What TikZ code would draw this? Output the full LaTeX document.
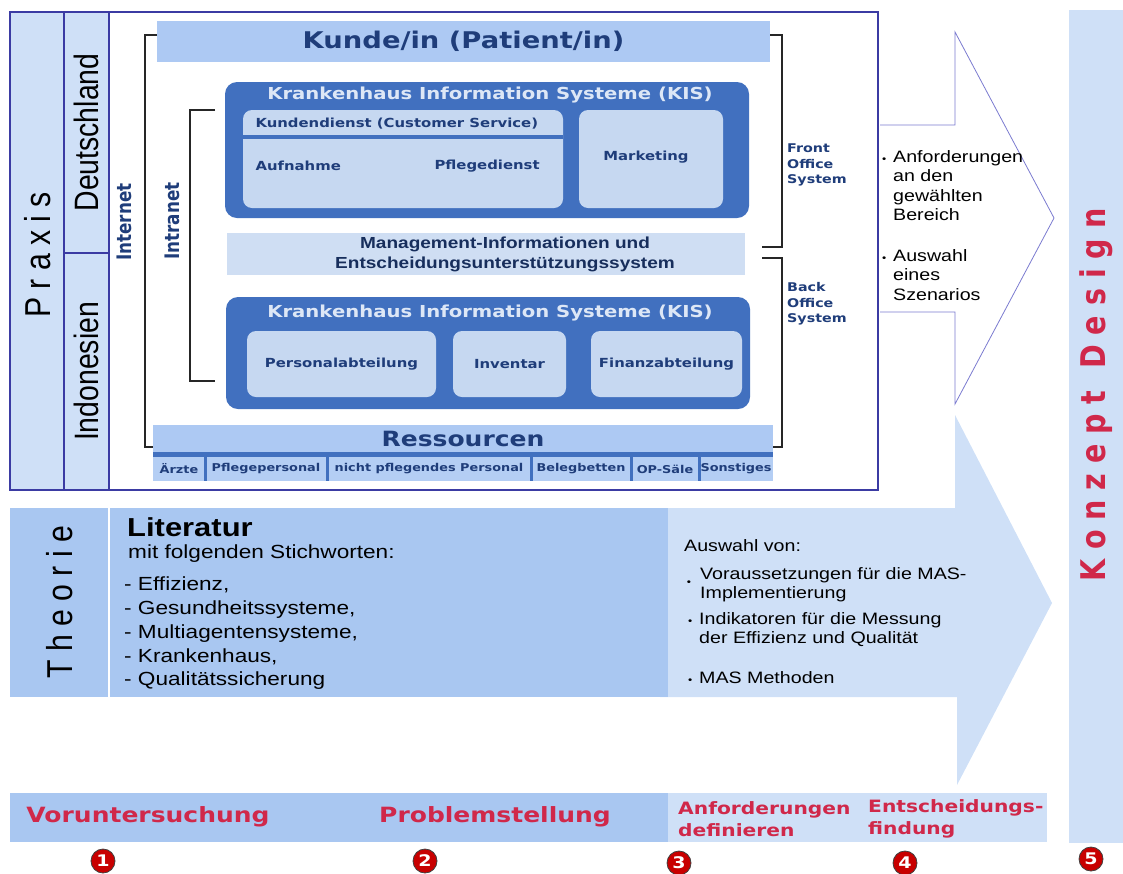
\documentclass[tikz,border=0pt]{standalone}
\usepackage{fontspec}
\setmainfont{Liberation Sans}[FakeStretch=1.19]
\newfontfamily\vfont{DejaVu Sans}[FakeStretch=1.19]
\newfontfamily\rotfont{Liberation Sans}[FakeStretch=0.84]
\newfontfamily\rotspaced{Liberation Sans}[FakeStretch=0.84, LetterSpace=23]
\newfontfamily\vrotfont{DejaVu Sans}[FakeStretch=0.84]
\newfontfamily\konfont{DejaVu Sans}[FakeStretch=0.84, LetterSpace=29]
\usepackage{tikz}
\usetikzlibrary{positioning}
\definecolor{pxIndigo}{HTML}{3B3BA3}
\definecolor{pxPale}{HTML}{CFE0F7}
\definecolor{pxSky}{HTML}{ADC9F3}
\definecolor{pxKis}{HTML}{4170BF}
\definecolor{pxUnit}{HTML}{C6D8F1}
\definecolor{pxNavy}{HTML}{1F3D7A}
\definecolor{pxTitle}{HTML}{DDE7F6}
\definecolor{pxTheo}{HTML}{A9C7F1}
\definecolor{pxRed}{HTML}{D0284A}
\definecolor{pxArrow}{HTML}{7B7BD0}
\definecolor{pxDot}{HTML}{C80000}
\newcommand{\dotb}{\makebox[11pt][l]{\fontsize{10}{10}\selectfont\textbullet}}

\begin{document}
\begin{tikzpicture}[x=1pt, y=-1pt,
      area/.style={inner sep=0pt, outer sep=0pt, anchor=north west},
      lane/.style={area, draw=pxIndigo, line width=2pt, fill=pxPale},
      bar/.style={area, fill=pxSky},
      kisbox/.style={area, fill=pxKis, rounded corners=12pt},
      unitbox/.style={area, fill=pxUnit, rounded corners=9pt},
      kistitle/.style={text=pxTitle, font=\vfont\bfseries\fontsize{16.5}{18}\selectfont},
      unit/.style={text=pxNavy, font=\vfont\bfseries\fontsize{12.5}{14}\selectfont},
      cell/.style={text=pxNavy, font=\vfont\bfseries\fontsize{10.8}{12}\selectfont},
      office/.style={text=pxNavy, align=left, anchor=west, inner sep=0pt,
                     font=\vfont\bfseries\fontsize{12}{15.5}\selectfont},
      net/.style={rotate=90, text=pxNavy, font=\vrotfont\bfseries\fontsize{20}{22}\selectfont},
      land/.style={rotate=90, font=\rotfont\fontsize{33.8}{36}\selectfont},
      side/.style={rotate=90, font=\rotspaced\fontsize{36}{38}\selectfont},
      brk/.style={line width=2pt, black!85},
      body/.style={align=left, anchor=north west, inner sep=0pt,
                   font=\fontsize{16.5}{19.5}\selectfont},
      phase/.style={text=pxRed, font=\vfont\bfseries\fontsize{21}{23}\selectfont},
      phasepair/.style={text=pxRed, align=left, anchor=west, inner sep=0pt,
                        font=\vfont\bfseries\fontsize{17}{22}\selectfont},
      num/.style={circle, fill=pxDot, draw=black!75, line width=0.8pt, text=white,
                  inner sep=0pt, minimum size=24pt, font=\vfont\bfseries\fontsize{16}{16}\selectfont}
    ]
    \useasboundingbox (0,0) rectangle (1123,873);

    \node[area, fill=pxPale, minimum width=54, minimum height=833] (konzept) at (1069,10) {};
    \node[rotate=90, text=pxRed, font=\konfont\bfseries\fontsize{34}{36}\selectfont] (konzeptlbl)
      at (1096,395) {Konzept\hspace{22pt}Design};

    \fill[pxPale] (660,508) -- (955,508) -- (955,415) -- (1052,603) -- (957,785) -- (957,697) -- (660,697) -- cycle;
    \draw[pxArrow, line width=0.8pt, fill=white] (880,125) -- (955,125) -- (955,32) -- (1054,218)
      -- (955,404) -- (955,312) -- (880,312);

    \node[lane, minimum width=54, minimum height=478] (praxis) at (10,12) {};
    \node[lane, minimum width=45, minimum height=241] (de) at (64,12) {};
    \node[lane, minimum width=45, minimum height=237] (id) at (64,253) {};
    \node[area, draw=pxIndigo, line width=2pt, fill=white, minimum width=769, minimum height=478] (field) at (109,12) {};
    \node[side] (praxislbl) at (38,255) {Praxis};
    \node[land] (delbl) at (de.center) {Deutschland};
    \node[land] (idlbl) at (id.center) {Indonesien};

    \node[bar, minimum width=613, minimum height=41, text=pxNavy,
          font=\vfont\bfseries\fontsize{23}{25}\selectfont] (kunde) at (157,21) {Kunde/in (Patient/in)};

    \node[kisbox, minimum width=524, minimum height=136] (kisfront) at (225,82) {};
    \node[kistitle] (kisfronttitle) at (490,95) {Krankenhaus Information Systeme (KIS)};
    \node[unitbox, minimum width=320, minimum height=98] (service) at (243,110) {};
    \draw[pxKis, line width=4pt] ([yshift=-27pt]service.north west) -- ([yshift=-27pt]service.north east);
    \node[unit, anchor=west] (servicehead) at (252,124) {Kundendienst (Customer Service)};
    \node[unit, anchor=west] (aufnahme) at (252,166) {Aufnahme};
    \node[unit, anchor=west] (pflege) at (431,166) {Pflegedienst};
    \node[unitbox, minimum width=144, minimum height=98] (marketing) at (579,110) {};
    \node[unit] (marketinglbl) at (646,157) {Marketing};

    \node[area, fill=pxUnit!85!white, minimum width=518, minimum height=42] (mis) at (227,233) {};
    \node[align=center, text=pxNavy!75!black, font=\bfseries\fontsize{16}{20}\selectfont] (mislbl)
      at (505,254) {Management-Informationen und\\Entscheidungsunterstützungssystem};

    \node[kisbox, minimum width=524, minimum height=112] (kisback) at (226,297) {};
    \node[kistitle] (kisbacktitle) at (490,313) {Krankenhaus Information Systeme (KIS)};
    \node[unitbox, unit, minimum width=189, minimum height=66] (personal) at (247,331) {Personalabteilung};
    \node[unitbox, unit, minimum width=113, minimum height=66] (inventar) at (453,331) {Inventar};
    \node[unitbox, unit, minimum width=151, minimum height=66] (finanz) at (591,331) {Finanzabteilung};

    \node[bar, minimum width=620, minimum height=27, text=pxNavy,
          font=\vfont\bfseries\fontsize{21}{23}\selectfont] (ressourcen) at (153,425) {Ressourcen};
    \node[area, fill=pxKis, minimum width=620, minimum height=5] (strip) at (153,452) {};
    \node[area, fill=pxSky!80!pxPale, minimum width=620, minimum height=24] (cells) at (153,457) {};
    \foreach \sx in {205,327,531,631,699}
      \draw[pxKis, line width=3pt] (\sx,457) -- (\sx,481);
    \foreach \cx/\txt [count=\i] in {179/Ärzte, 266/Pflegepersonal, 429/nicht pflegendes Personal,
                                     581/Belegbetten, 665/OP-Säle, 736/Sonstiges}
      \node[cell] (cell\i) at (\cx,469) {\txt};

    \draw[brk] (kunde.west |- 0,35) -- (145,35) -- (145,447) -- (ressourcen.west |- 0,447);
    \draw[brk] (215,110) -- (190,110) -- (190,381) -- (215,381);
    \draw[brk] (kunde.east |- 0,35) -- (782,35) -- (782,247) -- (762,247);
    \draw[brk] (762,258) -- (782,258) -- (782,447) -- (ressourcen.east |- 0,447);
    \node[net] (internet) at (124,222) {Internet};
    \node[net] (intranet) at (172,221) {Intranet};
    \node[office] (front) at (787,165) {Front\\Office\\System};
    \node[office] (back) at (787,304) {Back\\Office\\System};

    \node[body] (reqs) at (882,150) {\dotb Anforderungen\\\hspace*{11pt}an den\\\hspace*{11pt}gewählten\\\hspace*{11pt}Bereich};
    \node[body] (scen) at (882,249) {\dotb Auswahl\\\hspace*{11pt}eines\\\hspace*{11pt}Szenarios};

    \node[area, fill=pxTheo, minimum width=658, minimum height=189] (theorie) at (10,508) {};
    \draw[white, line width=2pt] (109,508) -- (109,697);
    \node[side] (theorielbl) at (60,602) {Theorie};
    \node[body, font=\bfseries\fontsize{26}{28}\selectfont] (literatur) at (127,517) {Literatur};
    \node[body, font=\fontsize{19}{23.75}\selectfont] (stich) at (128,545) {mit folgenden Stichworten:};
    \node[body, font=\fontsize{19}{23.75}\selectfont] (keys) at (124,577)
      {- Effizienz,\\- Gesundheitssysteme,\\- Multiagentensysteme,\\- Krankenhaus,\\- Qualitätssicherung};

    \node[body] (auswahl) at (684,539) {Auswahl von:};
    \node[font=\fontsize{10}{10}\selectfont] (dotone) at (689,583) {\textbullet};
    \node[body] (voraus) at (700,567) {Voraussetzungen für die MAS-\\Implementierung};
    \node[body] (indik) at (688,612) {\dotb Indikatoren für die Messung\\\hspace*{11pt}der Effizienz und Qualität};
    \node[body] (methoden) at (688,671) {\dotb MAS Methoden};

    \node[area, fill=pxTheo, minimum width=658, minimum height=49] (phaseone) at (10,793) {};
    \node[area, fill=pxPale, minimum width=379, minimum height=49] (phasetwo) at (668,793) {};
    \node[phase] (voru) at (148,817) {Voruntersuchung};
    \node[phase] (problem) at (495,817) {Problemstellung};
    \node[phasepair] (anf) at (678,819) {Anforderungen\\definieren};
    \node[phasepair] (ent) at (868,819) {Entscheidungs-\\findung};

    \foreach \nx/\ny [count=\n] in {103/861, 425/861, 679/863, 905/863, 1091/859}
      \node[num] (n\n) at (\nx,\ny) {\n};
  \end{tikzpicture}
\end{document}
